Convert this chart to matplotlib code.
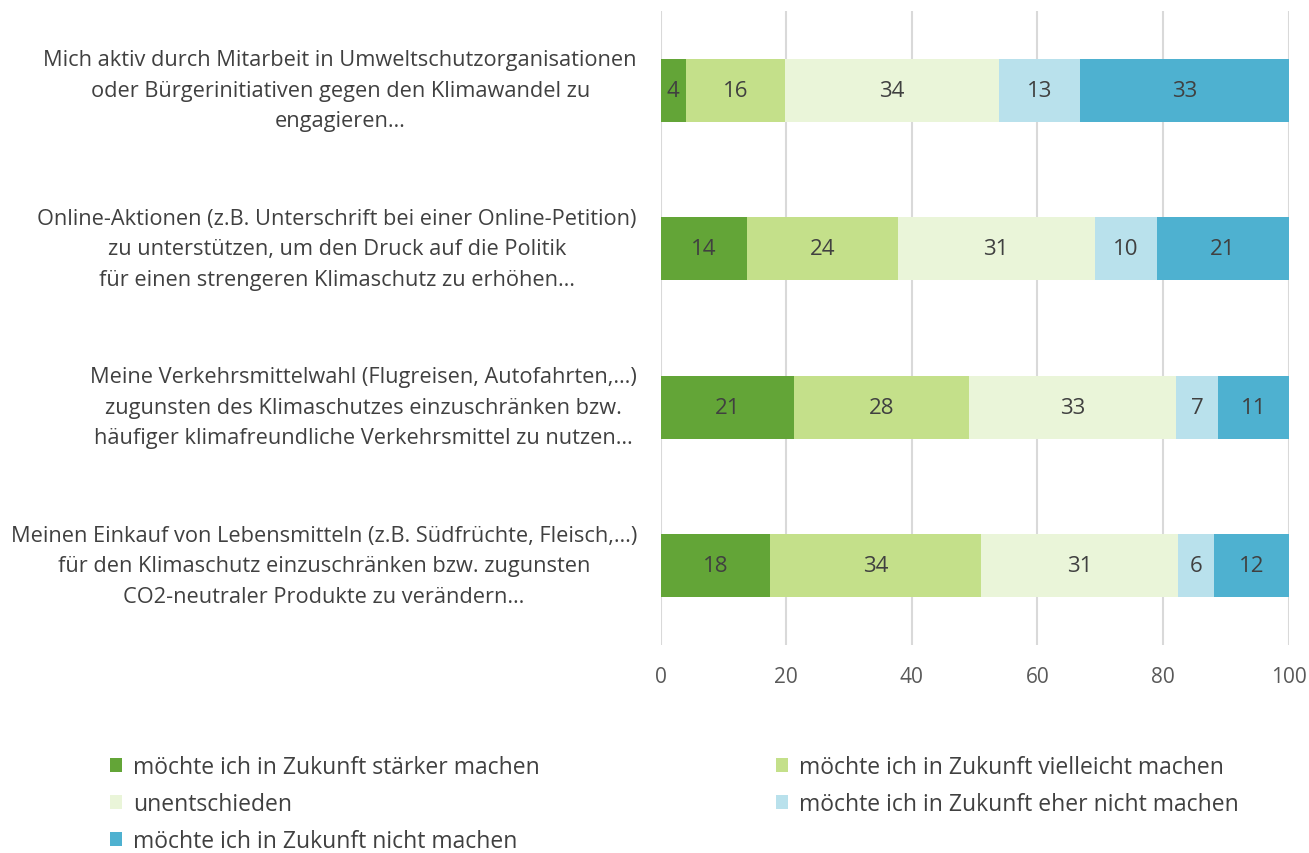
import matplotlib.pyplot as plt
from matplotlib.patches import Patch

plt.rcParams['font.family'] = ['Open Sans', 'DejaVu Sans']

# Aussagen (oben nach unten)
statements = [
    'Mich aktiv durch Mitarbeit in Umweltschutzorganisationen\noder Bürgerinitiativen gegen den Klimawandel zu\nengagieren…',
    'Online-Aktionen (z.B. Unterschrift bei einer Online-Petition)\nzu unterstützen, um den Druck auf die Politik\nfür einen strengeren Klimaschutz zu erhöhen…',
    'Meine Verkehrsmittelwahl (Flugreisen, Autofahrten,…)\nzugunsten des Klimaschutzes einzuschränken bzw.\nhäufiger klimafreundliche Verkehrsmittel zu nutzen…',
    'Meinen Einkauf von Lebensmitteln (z.B. Südfrüchte, Fleisch,…)\nfür den Klimaschutz einzuschränken bzw. zugunsten\nCO2-neutraler Produkte zu verändern…',
]

categories = [
    'möchte ich in Zukunft stärker machen',
    'möchte ich in Zukunft vielleicht machen',
    'unentschieden',
    'möchte ich in Zukunft eher nicht machen',
    'möchte ich in Zukunft nicht machen',
]

# Anteile in Prozent je Kategorie (Reihenfolge wie statements)
staerker    = [4.0, 13.7, 21.3, 17.5]
vielleicht  = [15.8, 24.1, 27.8, 33.5]
unentsch    = [34.1, 31.3, 33.0, 31.4]
eher_nicht  = [12.9, 9.9, 6.7, 5.8]
nicht       = [33.2, 21.0, 11.2, 11.8]

# angezeigte (gerundete) Werte
lbl_staerker   = [4, 14, 21, 18]
lbl_vielleicht = [16, 24, 28, 34]
lbl_unentsch   = [34, 31, 33, 31]
lbl_eher_nicht = [13, 10, 7, 6]
lbl_nicht      = [33, 21, 11, 12]

colors = ['#63a537', '#c4e08a', '#eaf5d9', '#b9e1ec', '#4eb1d0']
text_col = '#404040'

series = [staerker, vielleicht, unentsch, eher_nicht, nicht]
labels = [lbl_staerker, lbl_vielleicht, lbl_unentsch, lbl_eher_nicht, lbl_nicht]

fig = plt.figure(figsize=(13.09, 8.54), dpi=100)
ax = fig.add_axes([0.5046, 0.2436, 0.4798, 0.7423])

y = list(range(len(statements)))
left = [0.0] * len(statements)
for vals, lbls, col, name in zip(series, labels, colors, categories):
    bars = ax.barh(y, vals, left=left, height=0.4, color=col, label=name, zorder=3)
    ax.bar_label(bars, labels=[str(v) for v in lbls], label_type='center',
                 color=text_col, fontsize=16)
    left = [l + v for l, v in zip(left, vals)]

ax.set_xlim(0, 100)
ax.set_ylim(len(statements) - 0.5, -0.5)
ax.set_xticks([0, 20, 40, 60, 80, 100])
ax.set_yticks(y)
ax.set_yticklabels(statements, fontsize=15.7, color=text_col, linespacing=1.6)
for t in ax.get_yticklabels():
    t.set_multialignment('center')
    t.set_verticalalignment('center')
ax.tick_params(axis='y', length=0, pad=17)
ax.tick_params(axis='x', length=0, pad=15, labelsize=15, labelcolor='#595959')
ax.grid(axis='x', color='#d9d9d9', linewidth=1.5, zorder=0)
for s in ax.spines.values():
    s.set_visible(False)

# Legende zeilenweise: Reihenfolge für ncol=2 umsortieren
handles = [Patch(facecolor=c) for c in colors]
order = [0, 2, 4, 1, 3]
fig.legend([handles[i] for i in order], [categories[i] for i in order],
           ncol=2, loc='upper left', bbox_to_anchor=(0.084, 0.1145),
           frameon=False, fontsize=16.5, labelcolor=text_col,
           handlelength=0.53, handleheight=0.53, handletextpad=0.48,
           labelspacing=0.56, columnspacing=10.3, borderaxespad=0, borderpad=0)

fig.savefig('out.png', dpi=100)
